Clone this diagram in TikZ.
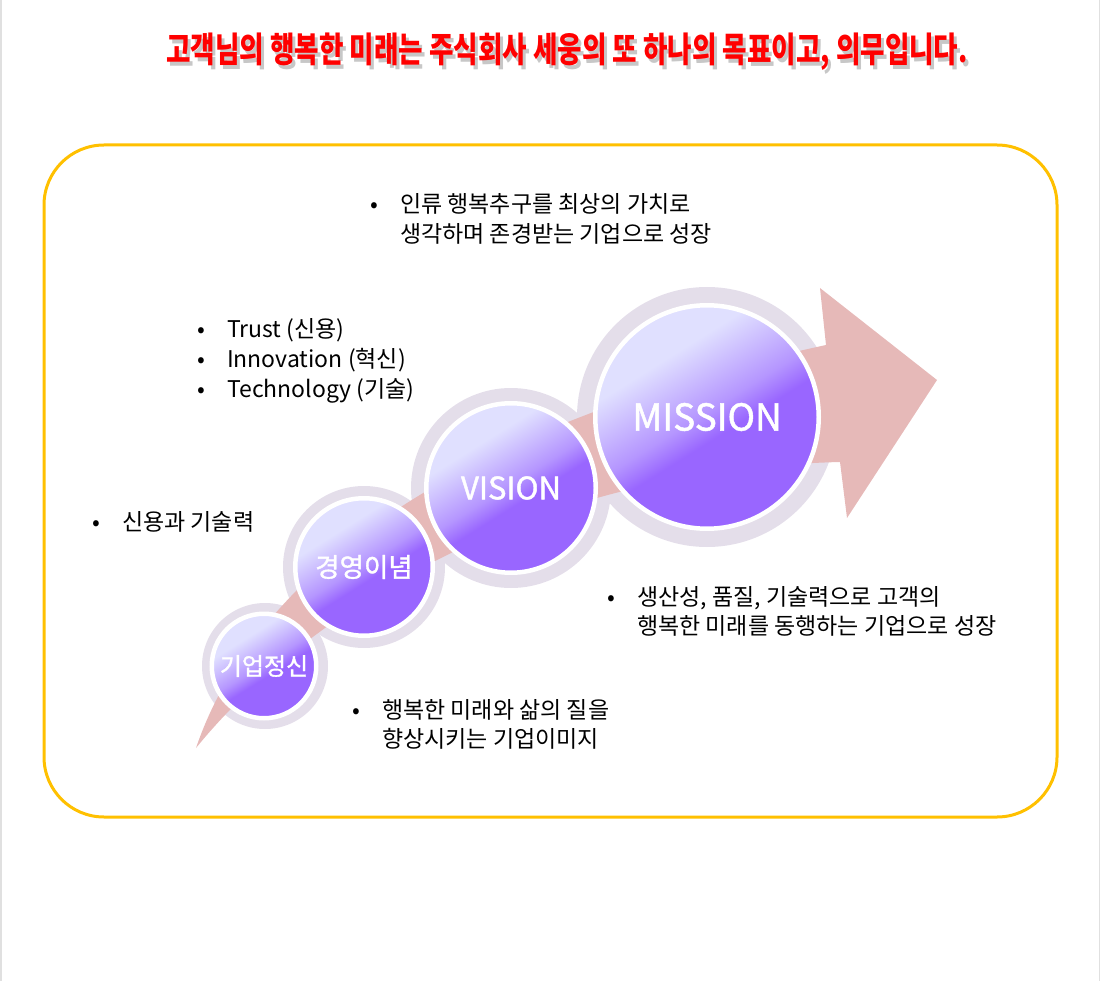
\documentclass[tikz,border=0pt]{standalone}
\usepackage{fontspec}
\usepackage{graphicx}
\usepackage{xcolor}
\setmainfont{Noto Sans CJK KR}
\newfontfamily\orbfont[FakeBold=1.3]{Noto Sans CJK KR}

\definecolor{ringgrey}{HTML}{E4DEEA}
\definecolor{arrowpink}{HTML}{E6B9B8}
\definecolor{orbpurple}{HTML}{9966FF}
\definecolor{orbmid}{HTML}{B596FF}
\definecolor{orblight}{HTML}{E0E0FF}
\definecolor{framegold}{HTML}{FFC000}
\pgfdeclareverticalshading{orbshade}{100bp}{color(0bp)=(orbpurple); color(45bp)=(orbpurple); color(51bp)=(orbmid); color(66bp)=(orblight); color(100bp)=(orblight)}

\begin{document}
\begin{tikzpicture}[x=1pt, y=-1pt]
	\tikzstyle{halo}=[circle, fill=ringgrey, inner sep=0pt]
	\tikzstyle{orb}=[circle, draw=white, line width=4.5pt, shading=orbshade, shading angle=32, text=white, inner sep=0pt]
	\tikzstyle{bullets}=[anchor=base west, inner sep=0pt, font=\fontsize{23}{29.5}\selectfont]
	\tikzstyle{headline}=[font=\bfseries\fontsize{35}{35}\selectfont]

	\useasboundingbox (0,0) rectangle (1100,981);
	\draw[black!12, line width=1.5pt] (0.75,0) -- (0.75,981) (1099.25,0) -- (1099.25,981);

	% title with its shadow
	\node[headline, text=black!40, opacity=0.55] (titleshadow) at (570,56) {\scalebox{0.76}[1]{고객님의 행복한 미래는 주식회사 세웅의 또 하나의 목표이고, 의무입니다.}};
	\node[headline, text=red] (title) at (567,52) {\scalebox{0.76}[1]{고객님의 행복한 미래는 주식회사 세웅의 또 하나의 목표이고, 의무입니다.}};

	\draw[framegold, line width=3pt, rounded corners=60pt] (44,145) rectangle (1057,817);

	% grey halos
	\node[halo, minimum size=126pt] (halo1) at (265,666) {};
	\node[halo, minimum size=162pt] (halo2) at (364,567) {};
	\node[halo, minimum size=200pt] (halo3) at (511,488) {};
	\node[halo, minimum size=260pt] (halo4) at (707,417) {};

	% rising arrow
	\fill[arrowpink] (196,748) .. controls (260,560) and (480,420) .. (826,345) -- (820,288) -- (937,380) -- (847,518) -- (840,462) .. controls (520,470) and (300,620) .. (196,748) -- cycle;

	% steps
	\node[orb, minimum size=104.5pt, font=\orbfont\fontsize{24}{24}\selectfont] (spirit) at (264,666) {기업정신};
	\node[orb, minimum size=137.5pt, font=\orbfont\fontsize{26.5}{26.5}\selectfont] (ideology) at (364,567) {경영이념};
	\node[orb, minimum size=169.5pt, font=\orbfont\fontsize{31}{31}\selectfont] (vision) at (511,488) {VISION};
	\node[orb, minimum size=223.5pt, font=\orbfont\fontsize{37}{37}\selectfont] (mission) at (707,417) {MISSION};

	% bullet texts
	\node[bullets] (missiontext) at (370,213) {\begin{tabular}[t]{@{}p{30pt}@{}l@{}}•&인류 행복추구를 최상의 가치로\\&생각하며 존경받는 기업으로 성장\end{tabular}};
	\node[bullets] (ideologytext) at (197,338) {\begin{tabular}[t]{@{}p{30pt}@{}l@{}}•&Trust (신용)\\•&Innovation (혁신)\\•&Technology (기술)\end{tabular}};
	\node[bullets] (spirittext) at (92,530) {\begin{tabular}[t]{@{}p{30pt}@{}l@{}}•&신용과 기술력\end{tabular}};
	\node[bullets] (visiontext) at (607,605) {\begin{tabular}[t]{@{}p{30pt}@{}l@{}}•&생산성, 품질, 기술력으로 고객의\\&행복한 미래를 동행하는 기업으로 성장\end{tabular}};
	\node[bullets] (imagetext) at (352,718) {\begin{tabular}[t]{@{}p{30pt}@{}l@{}}•&행복한 미래와 삶의 질을\\&향상시키는 기업이미지\end{tabular}};
\end{tikzpicture}
\end{document}
